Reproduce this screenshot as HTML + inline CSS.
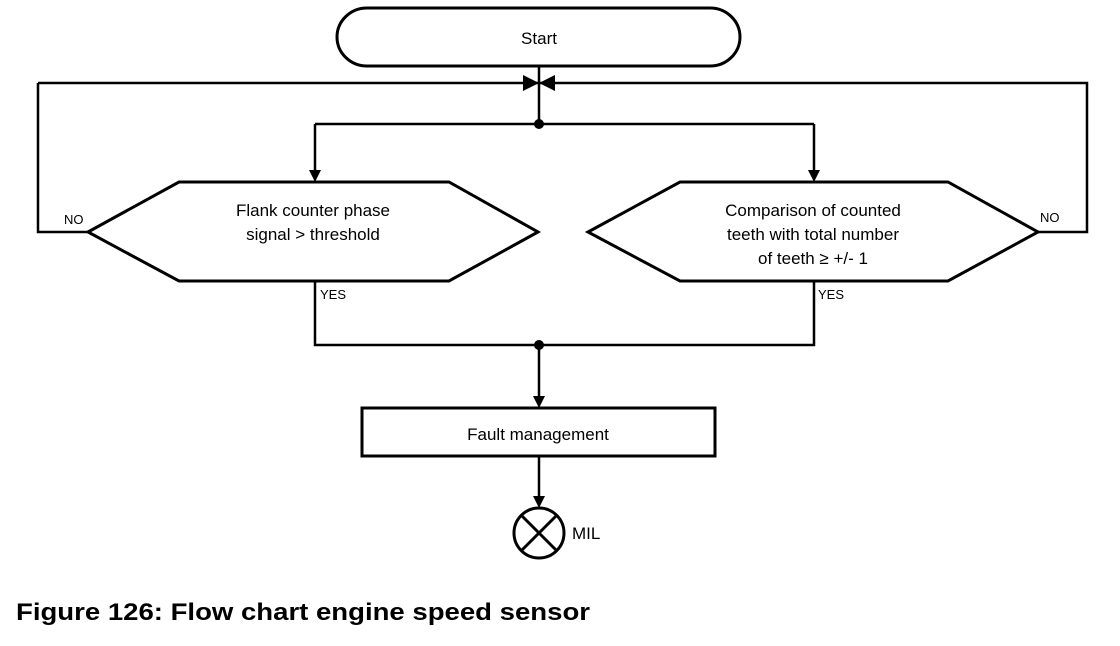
<!DOCTYPE html>
<html><head><style>
body{margin:0;background:#fff;width:1120px;height:646px;overflow:hidden}
svg{display:block}
text{font-family:"Liberation Sans",sans-serif;fill:#000}
</style></head><body>
<svg width="1120" height="646" viewBox="0 0 1120 646">
<g stroke="#000" fill="none" stroke-width="2.5">
<path d="M367,8 H710 A30,29 0 0 1 710,66 H367 A30,29 0 0 1 367,8 Z" stroke-width="3"/>
<path d="M539,66 V124"/>
<path d="M38,83 H1087 V232 H1038"/>
<path d="M38,83 V232 H88"/>
<path d="M315,124 H814"/>
<path d="M315,124 V172"/>
<path d="M814,124 V172"/>
<path d="M88,232 L179,182 H449 L538,232 L449,281 H179 Z" stroke-width="3"/>
<path d="M588,232 L680,182 H948 L1038,232 L948,281 H680 Z" stroke-width="3"/>
<path d="M315,281 V345 H814 V281"/>
<path d="M539,345 V398"/>
<rect x="362" y="408" width="353" height="48" stroke-width="3"/>
<path d="M539,456 V498"/>
<circle cx="539" cy="533" r="25" stroke-width="3"/>
<path d="M521,515 L557,551 M557,515 L521,551" stroke-width="3"/>
</g>
<g fill="#000">
<path d="M523,75 L539,83 L523,91 Z M555,75 L539,83 L555,91 Z"/>
<path d="M309,170 L321,170 L315,182 Z"/>
<path d="M808,170 L820,170 L814,182 Z"/>
<path d="M533,396 L545,396 L539,408 Z"/>
<path d="M533,496 L545,496 L539,508 Z"/>
<circle cx="539" cy="124" r="5"/>
<circle cx="539" cy="345" r="5"/>
</g>
<text x="539" y="44" font-size="17" text-anchor="middle">Start</text>
<text x="313" y="216" font-size="17" text-anchor="middle">Flank counter phase</text>
<text x="313" y="240" font-size="17" text-anchor="middle">signal &gt; threshold</text>
<text x="813" y="216" font-size="17" text-anchor="middle">Comparison of counted</text>
<text x="813" y="240" font-size="17" text-anchor="middle">teeth with total number</text>
<text x="813" y="264" font-size="17" text-anchor="middle">of teeth ≥ +/- 1</text>
<text x="64" y="224" font-size="13">NO</text>
<text x="1040" y="222" font-size="13">NO</text>
<text x="320" y="299" font-size="13">YES</text>
<text x="818" y="299" font-size="13">YES</text>
<text x="538" y="440" font-size="17" text-anchor="middle">Fault management</text>
<text x="572" y="539" font-size="17">MIL</text>
<text x="16" y="620" font-size="24" font-weight="bold" textLength="574" lengthAdjust="spacingAndGlyphs">Figure 126: Flow chart engine speed sensor</text>
</svg>
</body></html>
